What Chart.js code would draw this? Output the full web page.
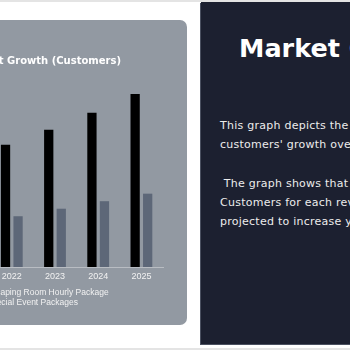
<!DOCTYPE html>
<html>
<head>
<meta charset="utf-8">
<script src="https://cdn.jsdelivr.net/npm/chart.js@4.4.0/dist/chart.umd.min.js"></script>
<style>
   html, body {
      margin: 0;
      padding: 0;
   }
   body {
      width: 350px;
      height: 350px;
      overflow: hidden;
      position: relative;
      background: #ffffff;
      font-family: 'DejaVu Sans', sans-serif;
   }
   .strip {
      position: absolute;
      left: 0;
      width: 350px;
      height: 2px;
      background: #e4e4e4;
   }
   .chart-card {
      position: absolute;
      left: -120px;
      top: 20px;
      width: 307px;
      height: 305px;
      border-radius: 7px;
      background: #9299a2;
   }
   .chart-box {
      position: absolute;
      left: -84px;
      top: 20px;
      width: 254px;
      height: 297px;
   }
   .info-card {
      position: absolute;
      left: 201px;
      top: 2px;
      width: 320px;
      height: 342px;
      background: #1c2030;
      box-shadow: -1px 1px 0 #4a5060;
      color: #ffffff;
   }
   .info-card h1 {
      position: absolute;
      left: 38px;
      top: 31px;
      margin: 0;
      font-size: 25.5px;
      font-weight: bold;
      line-height: 30px;
      white-space: nowrap;
   }
   .info-card .text {
      position: absolute;
      left: 19px;
      top: 114px;
      font-size: 11px;
      letter-spacing: 0.25px;
      line-height: 19.2px;
      color: #ececec;
      white-space: nowrap;
   }
</style>
</head>
<body>
<div class="strip" style="top:0"></div>
<div class="strip" style="top:348px"></div>

<div class="chart-card"></div>
<div class="chart-box"><canvas id="growthChart"></canvas></div>

<div class="info-card">
   <h1>Market Growth</h1>
   <div class="text">
      This graph depicts the market growth in terms of<br>
      customers' growth over the years.<br>
      <br>
      &nbsp;The graph shows that the number of<br>
      Customers for each revenue stream is<br>
      projected to increase year on year.
   </div>
</div>

<script>
// customers per year for each revenue stream
const years = ['2021', '2022', '2023', '2024', '2025'];
const hourlyPackage = [560, 650, 730, 820, 920];
const eventPackages = [230, 270, 310, 350, 390];
const seriesNames = ['Escaping Room Hourly Package', 'Special Event Packages'];

const labelColor = '#f2f2f2';

const ctx = document.getElementById('growthChart').getContext('2d');
new Chart(ctx, {
   type: 'bar',
   data: {
      labels: years,
      datasets: [{
         label: seriesNames[0],
         data: hourlyPackage,
         backgroundColor: '#000000',
         categoryPercentage: 0.58,
         barPercentage: 0.74
      }, {
         label: seriesNames[1],
         data: eventPackages,
         backgroundColor: '#5d6778',
         categoryPercentage: 0.58,
         barPercentage: 0.74
      }]
   },
   options: {
      responsive: true,
      maintainAspectRatio: false,
      animation: false,
      layout: {
         padding: { top: 0, right: 7, bottom: 0, left: 6 }
      },
      plugins: {
         title: {
            display: true,
            text: 'Market Growth (Customers)',
            color: '#ffffff',
            font: { family: 'DejaVu Sans', size: 10, weight: 'bold' },
            padding: { top: 35, bottom: 12 }
         },
         legend: {
            display: true,
            position: 'bottom',
            align: 'start',
            labels: {
               color: labelColor,
               boxWidth: 58,
               padding: 2,
               font: { family: 'Liberation Sans', size: 8.5 }
            }
         },
         tooltip: { enabled: false }
      },
      scales: {
         x: {
            grid: { display: false, drawTicks: false },
            border: { display: true, color: '#b9bdc3' },
            ticks: {
               color: labelColor,
               padding: 5,
               font: { family: 'Liberation Sans', size: 9, lineHeight: 1 }
            }
         },
         y: {
            min: 0,
            max: 1000,
            grid: { display: false },
            border: { display: false },
            ticks: {
               color: labelColor,
               font: { family: 'Liberation Sans', size: 9 }
            },
            afterFit: function (scale) {
               scale.width = 25;
            }
         }
      }
   }
});
</script>
</body>
</html>
